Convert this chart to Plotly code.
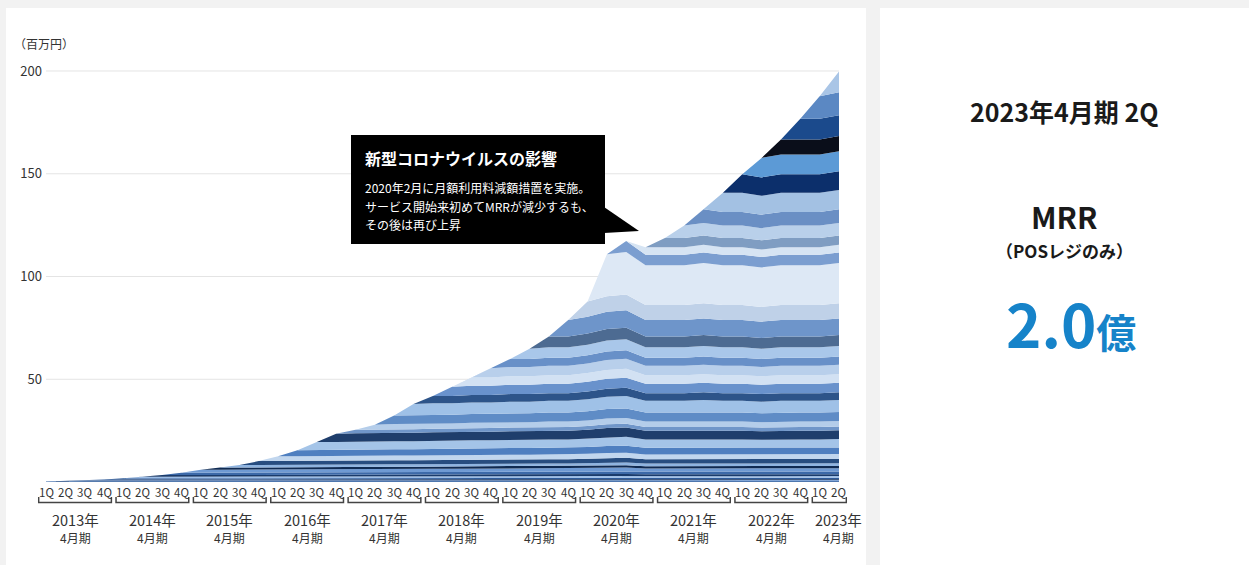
import plotly.graph_objects as go

# ---------------- data ----------------
quarter_labels = ["1Q", "2Q", "3Q", "4Q"] * 10 + ["1Q", "2Q"]
fiscal_years = ["2013年", "2014年", "2015年", "2016年", "2017年", "2018年",
                "2019年", "2020年", "2021年", "2022年", "2023年"]
fiscal_suffix = "4月期"
quarters_per_year = [4, 4, 4, 4, 4, 4, 4, 4, 4, 4, 2]

# MRR added by each quarterly cohort when it first appears (百万円)
cohort_new = [0.3, 0.2, 0.3, 0.4, 0.6, 0.7, 0.8, 1.2,
              1.4, 1.0, 1.2, 1.9, 2.2, 3.0, 3.8, 4.0,
              1.7, 2.5, 4.2, 5.5, 3.6, 4.5, 4.0, 4.5,
              3.9, 5.0, 5.3, 8.0, 7.4, 20.4, 5.4, 3.7,
              4.5, 6.0, 6.7, 9.3, 9.0, 9.5, 7.4, 10.0,
              11.0, 10.1]
# relative level of existing cohorts in each quarter (COVID bump / dip in 2020)
cohort_level = [0.86, 0.86, 0.87, 0.87, 0.88, 0.88, 0.89, 0.89,
                0.90, 0.90, 0.91, 0.91, 0.92, 0.92, 0.93, 0.93,
                0.94, 0.94, 0.95, 0.95, 0.96, 0.96, 0.97, 0.97,
                0.98, 0.98, 0.99, 0.99, 1.01, 1.04, 1.05, 0.99,
                0.99, 0.99, 1.00, 0.99, 0.99, 0.98, 0.99, 0.99,
                0.99, 1.00]
y_ticks = [50, 100, 150, 200]

# ---------------- styles ----------------
cohort_colors = [
    "#2a5fa5", "#1d4a8a", "#6d98d2", "#0c2347", "#2e5b9a", "#9cbde6", "#1a3b6b",
    "#3c69a8", "#6f9ad3", "#0f2a52", "#8fb4e0", "#274d80", "#c1d6ee", "#4f7fc0",
    "#a4c4e8", "#1f3e6c", "#7096c9", "#b4cdea", "#5f8cc6", "#9fc1e7", "#2d5489",
    "#6992cc", "#d2e1f3", "#b8cfeb", "#6890c8", "#a9c7ea", "#4d6b92", "#6e95ca",
    "#bfd1e8", "#dde8f5", "#7b9ed0", "#d6e4f3", "#7f9dc2", "#b9d0ea", "#6a8fc4",
    "#a3c1e3", "#0c2f6b", "#5c9ad6", "#0a0e1a", "#1b4a8c", "#5b88c3", "#a9c5e6",
]
FONT = "Noto Sans CJK JP, Noto Sans, sans-serif"
TXT = "#333333"
W, H = 1249, 565
Y_PX = 2.055          # pixels per 百万円
Y_ZERO = 482          # pixel row of the zero line
Y_MIN, Y_MAX = -11, 201
BRACKET_TOP, BRACKET_BOTTOM = -7.3, -10.0   # bracket drawn just under the baseline


def px(x):
    return x / W


def py(y):
    return 1 - y / H


n = len(quarter_labels)
xs = list(range(n))

fig = go.Figure()
for c in range(n):
    ys = []
    for t in range(n):
        if t < c:
            ys.append(0.0)
        else:
            ys.append(cohort_new[c] * cohort_level[t] / cohort_level[c])
    fig.add_trace(go.Scatter(
        x=xs, y=ys, stackgroup="cohorts", mode="lines",
        line=dict(width=0, color=cohort_colors[c]),
        fillcolor=cohort_colors[c], hoverinfo="skip", showlegend=False,
    ))

# fiscal-year brackets
bx, by = [], []
year_spans = []
start = 0
for k in range(len(fiscal_years)):
    i0 = start
    i1 = start + quarters_per_year[k] - 1
    start = i1 + 1
    year_spans.append((i0, i1))
    bx += [i0 - 0.38, i0 - 0.38, i1 + 0.38, i1 + 0.38, None]
    by += [BRACKET_TOP, BRACKET_BOTTOM, BRACKET_BOTTOM, BRACKET_TOP, None]
fig.add_trace(go.Scatter(x=bx, y=by, mode="lines",
                         line=dict(color="#444444", width=1.5),
                         hoverinfo="skip", showlegend=False))

shapes = []
# page panels
shapes.append(dict(type="rect", xref="paper", yref="paper", x0=px(6), x1=px(866),
                   y0=py(570), y1=py(8), fillcolor="white", line=dict(width=0), layer="below"))
shapes.append(dict(type="rect", xref="paper", yref="paper", x0=px(880), x1=px(1252),
                   y0=py(570), y1=py(8), fillcolor="white", line=dict(width=0), layer="below"))
# gridlines
for v in y_ticks:
    shapes.append(dict(type="line", xref="x", yref="y", x0=0, x1=n - 1, y0=v, y1=v,
                       line=dict(color="#e4e4e4", width=1), layer="below"))

annotations = []


def label(x, y, text, size, color=TXT, xref="paper", xanchor="center", xshift=0):
    annotations.append(dict(x=x, y=y, xref=xref, yref="paper", text=text, showarrow=False,
                            xanchor=xanchor, yanchor="middle", xshift=xshift,
                            font=dict(family=FONT, size=size, color=color)))


# quarter labels
for i, q in enumerate(quarter_labels):
    label(i, py(492), q, 11.5, xref="x")

for k, fy in enumerate(fiscal_years):
    i0, i1 = year_spans[k]
    shift = 9 if quarters_per_year[k] < 4 else 0
    label((i0 + i1) / 2, py(519), fy, 14.5, xref="x", xshift=shift)
    label((i0 + i1) / 2, py(537), fiscal_suffix, 12, xref="x", xshift=shift)

# callout box
shapes.append(dict(type="rect", xref="paper", yref="paper", x0=px(351), x1=px(605),
                   y0=py(244), y1=py(135), fillcolor="black", line=dict(width=0)))
shapes.append(dict(type="path", xref="paper", yref="paper",
                   path=f"M {px(604)},{py(207)} L {px(639)},{py(231)} L {px(604)},{py(233)} Z",
                   fillcolor="black", line=dict(width=0)))
label(px(363), py(158), "<b>新型コロナウイルスの影響</b>", 16, color="white", xanchor="left")
for txt, yy in [("2020年2月に月額利用料減額措置を実施。", 188),
                ("サービス開始来初めてMRRが減少するも、", 206),
                ("その後は再び上昇", 224)]:
    label(px(363), py(yy), txt, 12, color="white", xanchor="left")

# unit label
label(px(12), py(44), "（百万円）", 12, xanchor="left")

# right panel
cx = px(1064)
label(cx, py(111), "<b>2023年4月期 2Q</b>", 25, color="#1a1a1a")
label(cx, py(216), "<b>MRR</b>", 30, color="#1a1a1a")
label(cx, py(250), "<b>（POSレジのみ）</b>", 17, color="#1a1a1a")
label(px(1071), py(321), "<b>2.0<span style='font-size:40px'>億</span></b>", 60, color="#1683c9")

fig.update_layout(
    width=W, height=H,
    autosize=False,
    margin=dict(l=0, r=0, t=0, b=0, pad=0),
    paper_bgcolor="#f2f2f2",
    plot_bgcolor="rgba(0,0,0,0)",
    shapes=shapes,
    annotations=annotations,
    showlegend=False,
    xaxis=dict(domain=[px(37.9), px(847.1)], range=[-0.42, 41.42], automargin=False,
               showticklabels=False,
               showgrid=False, zeroline=False, showline=False, ticks="", fixedrange=True),
    yaxis=dict(domain=[py(Y_ZERO - Y_MIN * Y_PX), py(Y_ZERO - Y_MAX * Y_PX)],
               range=[Y_MIN, Y_MAX], automargin=False,
               anchor="free", position=px(42),
               tickmode="array", tickvals=y_ticks,
               showgrid=False, zeroline=False, showline=False, ticks="",
               tickfont=dict(family=FONT, size=13, color=TXT), fixedrange=True),
)

fig.write_html("out.html")
